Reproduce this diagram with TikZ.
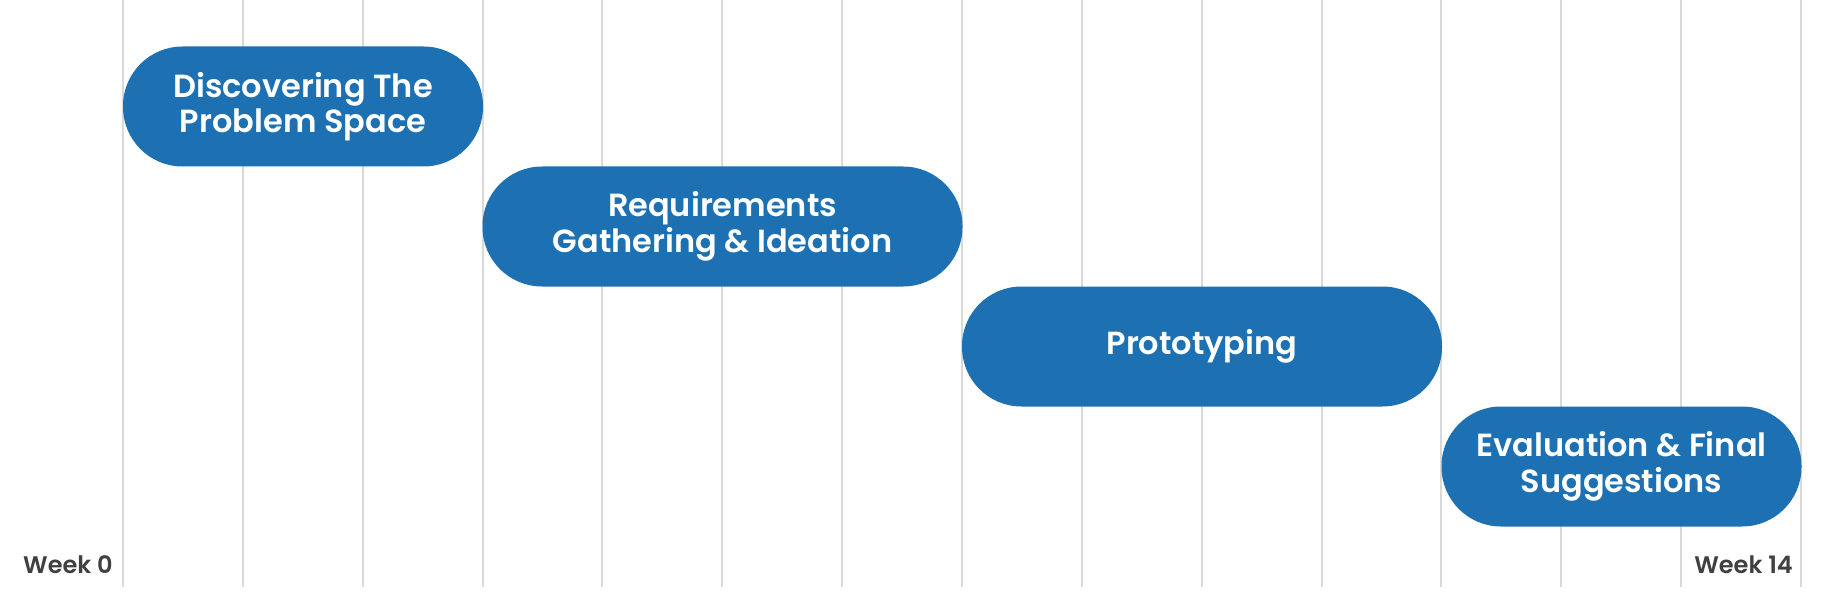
\documentclass[tikz,border=0pt]{standalone}
\usepackage{fontspec}
\setmainfont{Poppins}[BoldFont={Poppins SemiBold}]
\definecolor{pillblue}{RGB}{29,113,178}
\definecolor{gridgray}{RGB}{217,217,217}
\definecolor{weekgray}{RGB}{64,64,64}
\begin{document}
\begin{tikzpicture}[x=1pt,y=-1pt,
  pill/.style={rectangle, rounded corners=59.5pt, fill=pillblue, text=white,
    minimum height=120pt, inner sep=0pt, align=center,
    font=\fontsize{32}{35.5}\selectfont\bfseries},
  weeklabel/.style={text=weekgray, inner sep=0pt, font=\fontsize{24}{28}\selectfont\bfseries},
  gridline/.style={draw=gridgray, line width=2pt}]
\useasboundingbox (0,0) rectangle (1828,604);
\foreach \i in {0,...,14} {
  \draw[gridline] ({123+119.86*\i},0) -- ({123+119.86*\i},587);
}
\node[pill, minimum width=360pt] (p1) at (303,106.5) {Discovering The\\Problem Space};
\node[pill, minimum width=480pt] (p2) at (722.5,226.5) {Requirements\\Gathering \& Ideation};
\node[pill, minimum width=480pt] (p3) at (1202,346.5) {Prototyping};
\node[pill, minimum width=360pt] (p4) at (1621.5,466.5) {Evaluation \& Final\\Suggestions};
\node[weeklabel, anchor=base west] (w0) at (23,573) {Week 0};
\node[weeklabel, anchor=base east] (w14) at (1793,573) {Week 14};
\end{tikzpicture}
\end{document}
